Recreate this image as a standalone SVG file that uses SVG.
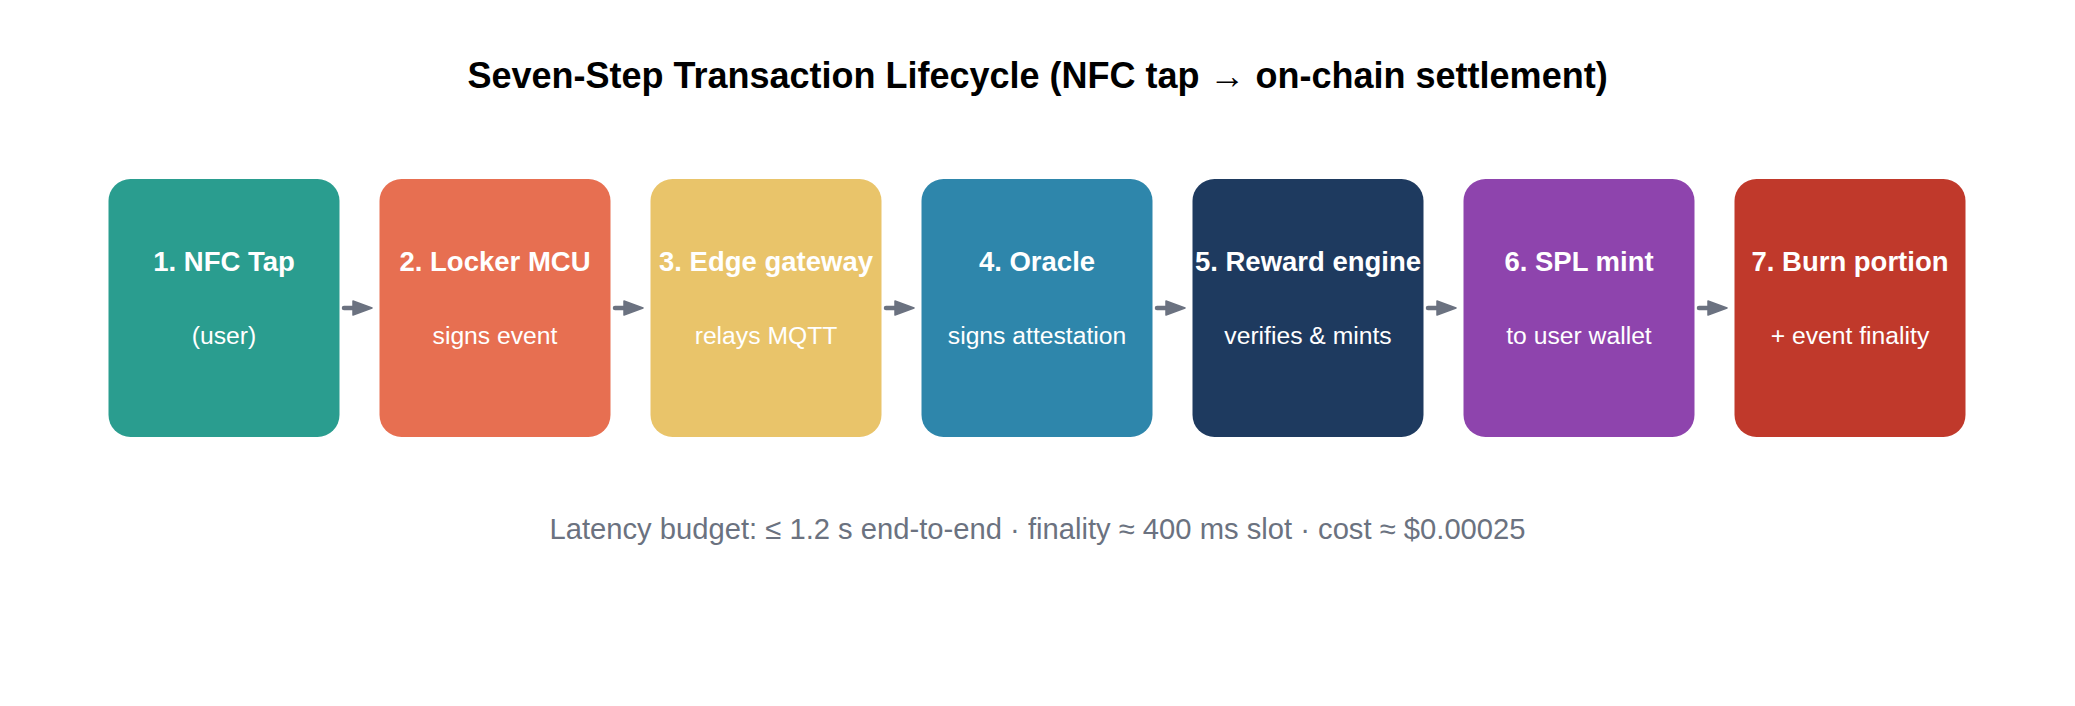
<svg xmlns="http://www.w3.org/2000/svg" width="2075" height="706" viewBox="0 0 2075 706">
<style>
.title{font-family:"Liberation Sans",Arial,sans-serif;font-weight:bold;font-size:36px;fill:#000;text-anchor:middle}
.lbl{font-family:"Liberation Sans",Arial,sans-serif;font-weight:bold;font-size:27.5px;fill:#fff;text-anchor:middle}
.sub{font-family:"Liberation Sans",Arial,sans-serif;font-size:24.7px;fill:#fff;text-anchor:middle}
.foot{font-family:"Liberation Sans",Arial,sans-serif;font-size:29.2px;fill:#6b7280;text-anchor:middle}
.edge{stroke:#6b7280;stroke-width:4.5;fill:none;stroke-linecap:round}
</style>
<defs>
<marker id="ah" markerUnits="userSpaceOnUse" markerWidth="24" markerHeight="18" refX="11" refY="9" orient="auto">
<path d="M2,2 L21,9 L2,16 z" fill="#6b7280" stroke="#6b7280" stroke-width="1.5" stroke-linejoin="round"/>
</marker>
</defs>
<rect width="2075" height="706" fill="#fff"/>
<text class="title" x="1037.5" y="87.5">Seven-Step Transaction Lifecycle (NFC tap → on-chain settlement)</text>
<g id="connectors">
<line class="edge" x1="344" y1="308" x2="362" y2="308" marker-end="url(#ah)"/>
<line class="edge" x1="615" y1="308" x2="633" y2="308" marker-end="url(#ah)"/>
<line class="edge" x1="886" y1="308" x2="904" y2="308" marker-end="url(#ah)"/>
<line class="edge" x1="1157" y1="308" x2="1175" y2="308" marker-end="url(#ah)"/>
<line class="edge" x1="1428" y1="308" x2="1446" y2="308" marker-end="url(#ah)"/>
<line class="edge" x1="1699" y1="308" x2="1717" y2="308" marker-end="url(#ah)"/>
</g>
<g id="step1"><rect x="108.5" y="179" width="231" height="258" rx="22" fill="#2a9d8f"/><text class="lbl" x="224" y="271">1. NFC Tap</text><text class="sub" x="224" y="344">(user)</text></g>
<g id="step2"><rect x="379.5" y="179" width="231" height="258" rx="22" fill="#e76f51"/><text class="lbl" x="495" y="271">2. Locker MCU</text><text class="sub" x="495" y="344">signs event</text></g>
<g id="step3"><rect x="650.5" y="179" width="231" height="258" rx="22" fill="#e9c46a"/><text class="lbl" x="766" y="271">3. Edge gateway</text><text class="sub" x="766" y="344">relays MQTT</text></g>
<g id="step4"><rect x="921.5" y="179" width="231" height="258" rx="22" fill="#2e86ab"/><text class="lbl" x="1037" y="271">4. Oracle</text><text class="sub" x="1037" y="344">signs attestation</text></g>
<g id="step5"><rect x="1192.5" y="179" width="231" height="258" rx="22" fill="#1e3a5f"/><text class="lbl" x="1308" y="271">5. Reward engine</text><text class="sub" x="1308" y="344">verifies &amp; mints</text></g>
<g id="step6"><rect x="1463.5" y="179" width="231" height="258" rx="22" fill="#8e44ad"/><text class="lbl" x="1579" y="271">6. SPL mint</text><text class="sub" x="1579" y="344">to user wallet</text></g>
<g id="step7"><rect x="1734.5" y="179" width="231" height="258" rx="22" fill="#c0392b"/><text class="lbl" x="1850" y="271">7. Burn portion</text><text class="sub" x="1850" y="344">+ event finality</text></g>
<text class="foot" x="1037.5" y="538.5">Latency budget: ≤ 1.2 s end-to-end · finality ≈ 400 ms slot · cost ≈ $0.00025</text>
</svg>
